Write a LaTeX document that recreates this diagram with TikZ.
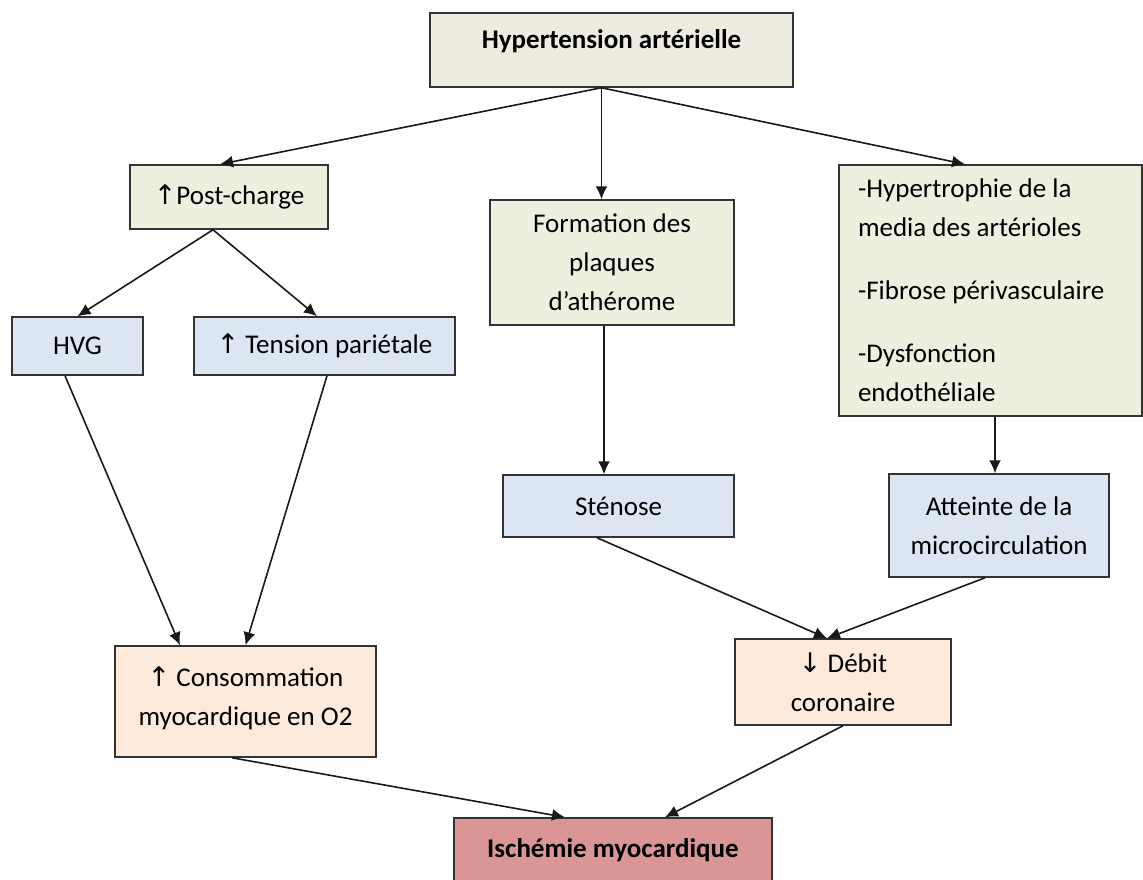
\documentclass[tikz,border=0pt]{standalone}
\usepackage{fontspec}
\setmainfont{Carlito}
\newfontfamily\symbfont{DejaVu Sans}
\usetikzlibrary{arrows.meta}
\newcommand\hausse{{\symbfont\char"2191}}
\newcommand\baisse{{\symbfont\char"2193}}
\definecolor{beige}{HTML}{EEECE1}
\definecolor{vert}{HTML}{EBF1DE}
\definecolor{bleu}{HTML}{DCE6F2}
\definecolor{peche}{HTML}{FDEADA}
\definecolor{rouge}{HTML}{D99694}

\begin{document}
\begin{tikzpicture}[x=0.5pt,y=-0.5pt,
        %Option for nice arrows%
        >={Latex[length=6.5pt,width=6pt]},%
        font=\fontsize{13.5}{19.5}\selectfont,%
        box/.style={draw=black!80, line width=0.75pt, inner sep=0pt,
            align=center, anchor=center},%
        link/.style={->, line width=0.8pt, draw=black!90}%
    ]
    \useasboundingbox (0,0) rectangle (1143,879);
    %% first level
    \node[box, fill=beige, minimum width=181.5pt, minimum height=37pt,
          text depth=11pt, font=\fontsize{13.5}{19.5}\selectfont\bfseries]
          (hta) at (611.5,50) {Hypertension artérielle};
    %
    \node[box, fill=vert, minimum width=99pt, minimum height=32pt]
          (post) at (229,197) {\hausse Post-charge};
    \node[box, fill=vert, minimum width=122pt, minimum height=62.5pt]
          (plaq) at (612,262.5) {Formation des\\plaques\\d’athérome};
    \node[box, fill=vert, minimum width=151.5pt, minimum height=125.5pt,
          align=flush left, text width=132.5pt, inner xsep=9.5pt]
          (arter) at (990.5,290.5)
          {-Hypertrophie de la\\media des artérioles\\[12pt]-Fibrose périvasculaire\\[12pt]-Dysfonction\\endothéliale};
    %% second level
    \node[box, fill=bleu, minimum width=65.5pt, minimum height=29pt]
          (hvg) at (77.5,346) {HVG};
    \node[box, fill=bleu, minimum width=130.5pt, minimum height=29pt]
          (tens) at (324.5,346) {\hausse{} Tension pariétale};
    \node[box, fill=bleu, minimum width=115.5pt, minimum height=31pt]
          (sten) at (618.5,506) {Sténose};
    \node[box, fill=bleu, minimum width=110pt, minimum height=51.5pt]
          (micro) at (999,525.5) {Atteinte de la\\microcirculation};
    %% third level
    \node[box, fill=peche, minimum width=130.5pt, minimum height=55.5pt,
          text depth=5pt]
          (conso) at (245.5,701.5) {\hausse{} Consommation\\myocardique en O2};
    \node[box, fill=peche, minimum width=108pt, minimum height=43pt]
          (debit) at (843,682) {\baisse{} Débit\\coronaire};
    \node[box, fill=rouge, minimum width=159pt, minimum height=32pt,
          font=\fontsize{13.5}{19.5}\selectfont\bfseries]
          (isch) at (613,850) {Ischémie myocardique};
    %
    %% connectors
    \draw[link] ([xshift=-5pt]hta.south) -- ([xshift=-4.5pt]post.north);
    \draw[link] ([xshift=-5pt]hta.south) -- ([xshift=-5.25pt]plaq.north);
    \draw[link] ([xshift=-5pt]hta.south) -- ([xshift=-12.75pt]arter.north);
    \draw[link] ([xshift=-8pt]post.south) -- (hvg.north);
    \draw[link] ([xshift=-8pt]post.south) -- ([xshift=-3.75pt]tens.north);
    \draw[link] ([xshift=-6.25pt]hvg.south) -- ([xshift=-32.75pt]conso.north);
    \draw[link] ([xshift=1.25pt]tens.south) -- (conso.north);
    \draw[link] ([xshift=-4pt]plaq.south) -- ([xshift=-7.25pt]sten.north);
    \draw[link] ([xshift=2.25pt]arter.south) -- ([xshift=-2pt]micro.north);
    \draw[link] ([xshift=-10.75pt]sten.south) -- ([xshift=-8pt]debit.north);
    \draw[link] ([xshift=-7pt]micro.south) -- ([xshift=-8pt]debit.north);
    \draw[link] ([xshift=-6.75pt]conso.south) -- ([xshift=-24pt]isch.north);
    \draw[link] (debit.south) -- ([xshift=26pt]isch.north);
\end{tikzpicture}
\end{document}
